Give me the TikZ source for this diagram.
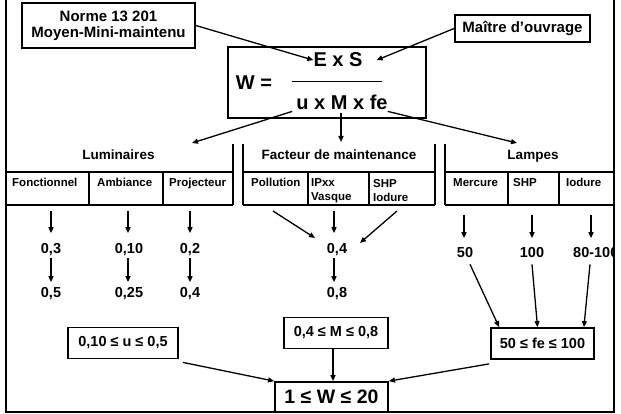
\documentclass[tikz,border=0pt]{standalone}
\usepackage{fontspec}
\setmainfont{Liberation Sans}
\usetikzlibrary{arrows.meta}
\begin{document}
\begin{tikzpicture}[x=1pt,y=-1pt,
  every node/.style={font=\bfseries, inner sep=0pt},
  box/.style={draw, line width=1.8pt},
  arr/.style={line width=1.3pt, -{Triangle[length=6pt,width=5pt]}},
  tbl/.style={line width=1.3pt},
  frame/.style={line width=2.4pt},
  hdr/.style={font=\bfseries\fontsize{13.5}{16}\selectfont, anchor=base},
  cell/.style={font=\bfseries\fontsize{11.5}{14}\selectfont, anchor=base west},
  cell2/.style={font=\bfseries\fontsize{11.5}{14}\selectfont, anchor=north west, align=left},
  val/.style={font=\bfseries\fontsize{14.5}{17}\selectfont, anchor=base},
  big/.style={font=\bfseries\fontsize{20}{24}\selectfont, anchor=base},
  rng/.style={box, font=\bfseries\fontsize{14.5}{17}\selectfont},
]
\useasboundingbox (0,0) rectangle (621,414);

% outer frame (open at top)
\draw[frame] (6,0) -- (6,412) -- (614,412) -- (614,0);

% top boxes
\node[box, minimum width=173pt, minimum height=45pt, align=center,
      font=\bfseries\fontsize{15}{16}\selectfont] (norme) at (108.5,25.5)
      {Norme 13 201\\Moyen-Mini-maintenu};
\node[box, minimum width=135pt, minimum height=27pt,
      font=\bfseries\fontsize{15}{16}\selectfont] (maitre) at (522.5,28.5)
      {Maître d’ouvrage};

% formula box
\node[box, minimum width=198pt, minimum height=71pt] (wbox) at (327,82.5) {};
\node[big] (wlab) at (254,90) {W =};
\node[big] (num) at (338,67) {E x S};
\node[big] (den) at (342,110) {u x M x fe};
\coordinate (fl) at (292,81);
\coordinate (fr) at (382,81);
\draw[line width=0.8pt] (fl) -- (fr);

\draw[arr] (norme.east) -- (num.west);
\draw[arr] (maitre.west) -- ([xshift=14pt]num.east);

\coordinate (lumt) at (192,143);
\coordinate (mst) at (341,113);
\coordinate (fact) at (341,142);
\coordinate (lampt) at (517,143);
\draw[arr] ([xshift=-4pt,yshift=-1pt]den.south west) -- (lumt);
\draw[arr] (mst) -- (fact);
\draw[arr] ([xshift=0pt,yshift=-1pt]den.south east) -- (lampt);

% table: Luminaires
\draw[tbl] (233,144) -- (233,205);
\draw[tbl] (6,172) -- (233,172);
\draw[tbl] (6,205) -- (233,205);
\draw[tbl] (89,172) -- (89,205);
\draw[tbl] (163,172) -- (163,205);
% table: Facteur de maintenance
\draw[tbl] (243,144) -- (243,205);
\draw[tbl] (435,144) -- (435,205);
\draw[tbl] (243,172) -- (435,172);
\draw[tbl] (243,205) -- (435,205);
\draw[tbl] (308,172) -- (308,205);
\draw[tbl] (369,172) -- (369,205);
% table: Lampes
\draw[tbl] (445,144) -- (445,205);
\draw[tbl] (445,172) -- (614,172);
\draw[tbl] (445,205) -- (614,205);
\draw[tbl] (508,172) -- (508,205);
\draw[tbl] (559,172) -- (559,205);

\node[hdr] (hlum) at (118.5,160) {Luminaires};
\node[hdr] (hfac) at (339,160) {Facteur de maintenance};
\node[hdr] (hlam) at (533,160) {Lampes};

\node[cell] (cfon) at (12,187) {Fonctionnel};
\node[cell] (camb) at (97,187) {Ambiance};
\node[cell] (cpro) at (169,187) {Projecteur};
\node[cell] (cpol) at (251,187) {Pollution};
\node[cell2] (cipx) at (311,178.8) {IPxx\\Vasque};
\node[cell2] (cshp) at (373,178.8) {SHP\\Iodure};
\node[cell] (cmer) at (453,187) {Mercure};
\node[cell] (cshl) at (513,187) {SHP};
\node[cell] (ciod) at (566,187) {Iodure};

% values Luminaires
\node[val] (v03) at (51,253) {0,3};
\node[val] (v010) at (129,253) {0,10};
\node[val] (v02) at (190,253) {0,2};
\node[val] (v05) at (51,297) {0,5};
\node[val] (v025) at (129,297) {0,25};
\node[val] (v04b) at (190,297) {0,4};
\coordinate (s1) at (51,211);
\coordinate (s2) at (128,211);
\coordinate (s3) at (190,211);
\draw[arr, shorten >=9.5pt] (s1) -- (v03.north);
\draw[arr, shorten >=9.5pt] (s2) -- (s2 |- v010.north);
\draw[arr, shorten >=9.5pt] (s3) -- (v02.north);
\draw[arr, shorten <=3pt, shorten >=4.5pt] (v03.south) -- (v05.north);
\draw[arr, shorten <=3pt, shorten >=4.5pt] (s2 |- v010.south) -- (s2 |- v025.north);
\draw[arr, shorten <=3pt, shorten >=4.5pt] (v02.south) -- (v04b.north);

% values Facteur
\node[val] (v04) at (337,253) {0,4};
\node[val] (v08) at (337,297) {0,8};
\coordinate (f1) at (273,211);
\coordinate (f2) at (334,211);
\coordinate (f3) at (397,211);
\coordinate (f1e) at (315,238);
\coordinate (f3e) at (360,243);
\draw[arr] (f1) -- (f1e);
\draw[arr, shorten >=9.5pt] (f2) -- (f2 |- v04.north);
\draw[arr] (f3) -- (f3e);
\draw[arr, shorten <=3pt, shorten >=4.5pt] (f2 |- v04.south) -- (f2 |- v08.north);

% values Lampes
\node[val] (v50) at (465,258) {50};
\node[val] (v100) at (532,258) {100};
\begin{scope}
  \clip (0,0) rectangle (613,414);
  \node[val, anchor=base west] (v80) at (573,258) {80-100};
\end{scope}
\coordinate (l1) at (464,215);
\coordinate (l2) at (532,215);
\coordinate (l3) at (591,215);
\draw[arr, shorten >=9.5pt] (l1) -- (l1 |- v50.north);
\draw[arr, shorten >=9.5pt] (l2) -- (l2 |- v100.north);
\draw[arr, shorten >=9.5pt] (l3) -- (l3 |- v80.north);

% range boxes
\node[rng, minimum width=110pt, minimum height=31pt] (ubox) at (123,343) {0,10 ≤ u ≤ 0,5};
\node[rng, minimum width=104pt, minimum height=31pt] (mbox) at (336,333) {0,4 ≤ M ≤ 0,8};
\node[rng, minimum width=103pt, minimum height=31pt] (febox) at (542.5,343.5) {50 ≤ fe ≤ 100};
\node[box, minimum width=113pt, minimum height=30pt,
      font=\bfseries\fontsize{19.5}{22}\selectfont] (res) at (331.5,397) {1 ≤ W ≤ 20};

\draw[arr] ([xshift=5pt,yshift=-6pt]v50.south) -- ([xshift=9pt]febox.north west);
\draw[arr] ([yshift=-6pt]v100.south) -- ([xshift=-5pt]febox.north);
\draw[arr] ([xshift=17pt,yshift=-6pt]v80.south west) -- ([xshift=-11pt]febox.north east);

\draw[arr] ([shift={(4pt,-3pt)}]ubox.south east) -- (res.north west);
\draw[arr] ([xshift=-3pt]mbox.south) -- ([xshift=-3pt]mbox.south |- res.north);
\draw[arr] ([shift={(-1pt,-4pt)}]febox.south west) -- (res.north east);
\end{tikzpicture}
\end{document}
